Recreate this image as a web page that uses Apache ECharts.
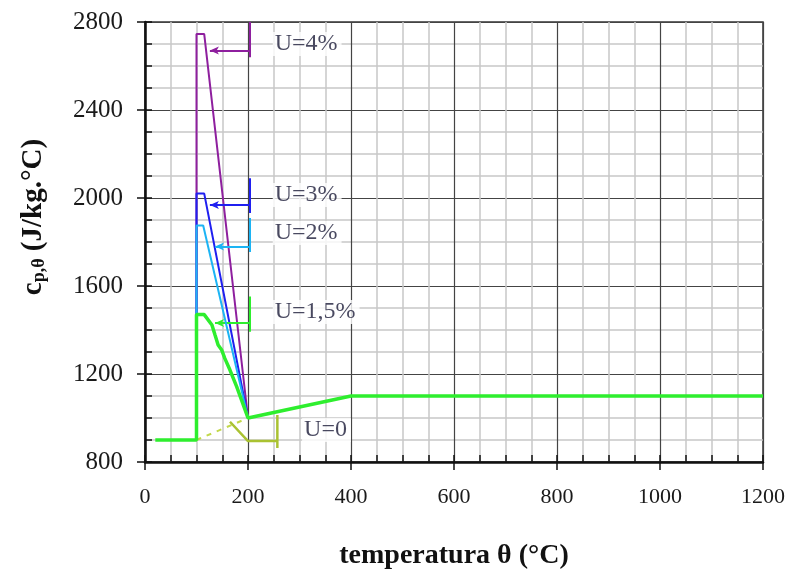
<!DOCTYPE html>
<html>
<head>
<meta charset="utf-8">
<script src="https://cdn.jsdelivr.net/npm/echarts@6/dist/echarts.min.js"></script>
<style>
  html, body { margin: 0; padding: 0; background: #fff; }
  #chart { width: 791px; height: 579px; }
</style>
</head>
<body>
<div id="chart"></div>
<script>
  // curvas cp(θ) para os vários teores de humidade
  let u15 = [[20, 900], [100, 900], [100, 1470], [115, 1470], [130, 1423], [136, 1377], [142, 1332],
    [149, 1309], [155, 1271], [165, 1218], [178, 1143], [200, 1000], [400, 1100], [1200, 1100]];
  let u2 = [[100, 900], [100, 1875], [113, 1875], [200, 1000]];
  let u3 = [[100, 900], [100, 2020], [115, 2020], [200, 1000]];
  let u4 = [[100, 900], [100, 2745], [115, 2745], [200, 1000]];
  let u0 = [[100, 900], [200, 1000]];

  // chavetas das legendas (vertical + seta)
  let b4 = { v: [[204, 2800], [204, 2640]], a: [[204, 2670], [126, 2670]] };
  let b3 = { v: [[204, 2090], [204, 1932]], a: [[204, 1968], [126, 1968]] };
  let b2 = { v: [[204, 1909], [204, 1755]], a: [[204, 1779], [136, 1779]] };
  let b15 = { v: [[204, 1552], [204, 1392]], a: [[204, 1432], [136, 1432]] };
  let b0 = [[165, 983], [200, 895], [257, 895], [257, 1014], [257, 864]];

  let labels = [[248, 2700, 'U=4%'], [248, 2014, 'U=3%'], [248, 1841, 'U=2%'], [248, 1482, 'U=1,5%'], [305, 946, 'U=0']];

  let xMin = 0, xMax = 1200, yMin = 800, yMax = 2800;

  let font = 'Liberation Serif';

  function bracket(b) {
    return {
      silent: true,
      symbol: ['none', 'none'],
      label: { show: false },
      animation: false,
      data: [
        [{ coord: b.v[0] }, { coord: b.v[1] }],
        [{ coord: b.a[0] }, { coord: b.a[1], symbol: 'arrow', symbolSize: [6, 9] }]
      ]
    };
  }

  function curve(name, data, color, width, z, b) {
    let s = {
      name: name,
      type: 'line',
      data: data,
      symbol: 'none',
      z: z,
      lineStyle: { color: color, width: width },
      animation: false
    };
    if (b) {
      s.markLine = bracket(b);
      s.markLine.lineStyle = { color: color, width: 2, type: 'solid' };
    }
    return s;
  }

  let myChart = echarts.init(document.getElementById('chart'));
  let option = {
    backgroundColor: '#fff',
    animation: false,
    grid: {
      left: 145, right: 28, top: 22, bottom: 117,
      show: true, borderColor: '#333', borderWidth: 1.5
    },
    xAxis: [
      {
        type: 'value', min: xMin, max: xMax, interval: 200,
        axisLine: { lineStyle: { color: '#111', width: 2.5 } },
        axisTick: { inside: false, length: 8, lineStyle: { color: '#111', width: 1.5 } },
        axisLabel: { fontFamily: font, fontSize: 22, color: '#1a1a1a', margin: 24, formatter: v => String(v) },
        splitLine: { lineStyle: { color: '#444', width: 1.2 } },
        minorTick: { show: false, splitNumber: 4 },
        minorSplitLine: { show: true, lineStyle: { color: '#c8c8c8', width: 1.5 } },
        name: 'temperatura θ (°C)',
        nameLocation: 'middle',
        nameGap: 80,
        nameTextStyle: { fontFamily: font, fontSize: 28, fontWeight: 'bold', color: '#111' }
      },
      {
        type: 'value', min: xMin, max: xMax, interval: 50, position: 'bottom',
        axisLine: { show: false },
        axisTick: { inside: true, length: 7, lineStyle: { color: '#111', width: 1.5 } },
        axisLabel: { show: false },
        splitLine: { show: false }
      }
    ],
    yAxis: [
      {
        type: 'value', min: yMin, max: yMax, interval: 400,
        axisLine: { lineStyle: { color: '#111', width: 2.5 } },
        axisTick: { inside: false, length: 8, lineStyle: { color: '#111', width: 1.5 } },
        axisLabel: { fontFamily: font, fontSize: 25, color: '#1a1a1a', margin: 22, formatter: v => String(v) },
        splitLine: { lineStyle: { color: '#444', width: 1.2 } },
        minorTick: { show: false, splitNumber: 4 },
        minorSplitLine: { show: true, lineStyle: { color: '#c8c8c8', width: 1.5 } },
        name: '{a|c}{s|p,θ}{a| (J/kg.°C)}',
        nameLocation: 'middle',
        nameGap: 97,
        nameTextStyle: {
          color: '#111',
          padding: [0, 0, 0, 50],
          rich: {
            a: { fontFamily: font, fontSize: 29, fontWeight: 'bold', color: '#111' },
            s: { fontFamily: font, fontSize: 18, fontWeight: 'bold', color: '#111', padding: [11, 0, 0, 0] }
          }
        }
      },
      {
        type: 'value', min: yMin, max: yMax, interval: 100, position: 'left',
        axisLine: { show: false },
        axisTick: { inside: true, length: 7, lineStyle: { color: '#111', width: 1.5 } },
        axisLabel: { show: false },
        splitLine: { show: false }
      }
    ],
    series: [
      curve('U=4%', u4, '#8e1f9e', 2, 3, b4),
      curve('U=3%', u3, '#1f1ff0', 2, 4, b3),
      curve('U=2%', u2, '#1cb4f4', 2, 5, b2),
      {
        name: 'U=0', type: 'line', data: u0, symbol: 'none', z: 5,
        lineStyle: { color: '#c2d84a', width: 2, type: [5, 6] }, animation: false
      },
      {
        name: 'U=0 chaveta', type: 'line', data: b0, symbol: 'none', z: 5,
        lineStyle: { color: '#aac232', width: 2.5 }, animation: false
      },
      curve('U=1,5%', u15, '#2eee2e', 3.5, 6, b15),
      {
        name: 'labels', type: 'scatter', symbolSize: 0, z: 7, silent: true,
        data: labels,
        label: {
          show: true, position: 'right', distance: 0,
          formatter: p => p.data[2],
          fontFamily: font, fontSize: 24, color: '#1c1c38',
          backgroundColor: '#fff', padding: [0, 4, 0, 2]
        },
        animation: false
      }
    ]
  };
  myChart.setOption(option);
</script>
</body>
</html>
